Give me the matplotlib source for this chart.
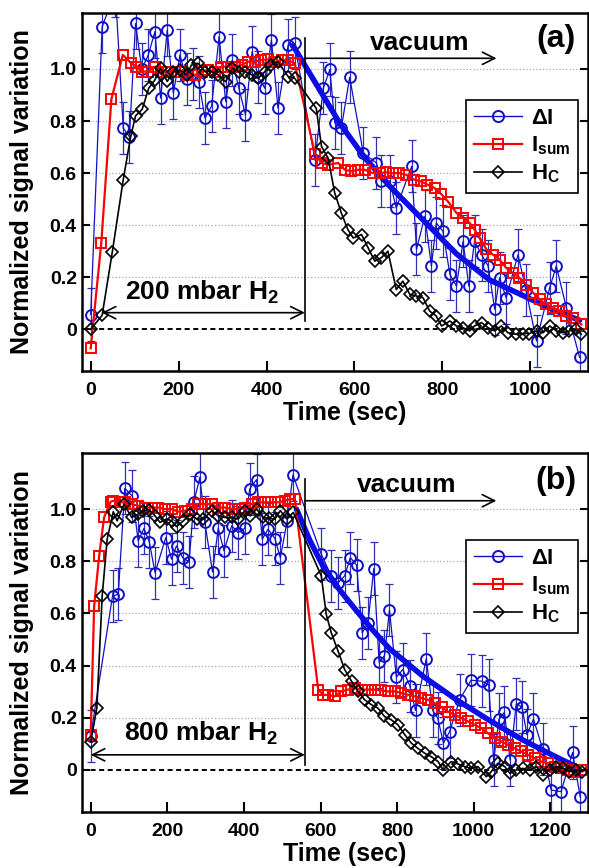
import matplotlib
matplotlib.use('Agg')
import matplotlib.pyplot as plt
from matplotlib.ticker import FuncFormatter, FixedLocator
from matplotlib.lines import Line2D

plt.rcParams['font.family'] = ['Liberation Sans', 'DejaVu Sans']
plt.rcParams['font.weight'] = 'bold'
plt.rcParams['mathtext.fontset'] = 'custom'
plt.rcParams['mathtext.rm'] = 'Liberation Sans:bold'
plt.rcParams['mathtext.bf'] = 'Liberation Sans:bold'
plt.rcParams['mathtext.it'] = 'Liberation Sans:bold'

# ---------------- Panel (a): 200 mbar H2 ----------------
a_dI_t = [0, 26, 56, 74, 88, 102, 116, 131, 146, 159, 174, 188, 203, 218, 233, 246, 260, 275,
          292, 307, 322, 337, 352, 367, 381, 396, 411, 426, 449, 464, 510, 529, 544, 555, 570,
          589, 620, 650, 661, 680, 695, 730, 741, 760, 775, 786, 801, 817, 832, 847, 860, 873,
          889, 904, 919, 930, 945, 972, 990, 1014, 1044, 1059, 1082, 1112]
a_dI_v = [0.057, 1.162, 1.30, 0.773, 0.74, 1.175, 1.00, 1.054, 1.143, 0.888, 1.149, 0.907, 1.054,
          0.96, 0.98, 0.95, 0.811, 0.858, 1.124, 0.875, 1.034, 0.926, 0.824, 1.066, 0.97, 0.926,
          1.111, 0.849, 1.092, 1.098, 0.65, 0.926, 0.998, 0.794, 0.773, 0.968, 0.677, 0.639, 0.569,
          0.57, 0.466, 0.626, 0.307, 0.434, 0.243, 0.409, 0.377, 0.211, 0.166, 0.338, 0.166, 0.338,
          0.287, 0.243, 0.077, 0.198, 0.121, 0.287, 0.15, -0.045, 0.160, 0.243, 0.083, -0.108]
a_dI_err = 0.10

a_sum_t = [0, 24, 47, 73, 91, 104, 116, 131, 146, 161, 176, 191, 206, 222, 237, 252, 267, 282,
           297, 313, 328, 343, 358, 373, 388, 404, 419, 434, 449, 464, 510, 525, 540, 563, 578,
           593, 608, 623, 642, 657, 672, 687, 702, 717, 736, 751, 766, 782, 797, 813, 832, 847,
           862, 873, 885, 900, 915, 930, 945, 960, 975, 991, 1006, 1021, 1036, 1051, 1066, 1081,
           1097, 1116]
a_sum_v = [-0.073, 0.332, 0.884, 1.054, 1.024, 1.009, 0.99, 0.99, 1.009, 0.99, 0.99, 0.99, 0.99,
           0.977, 0.977, 0.99, 0.996, 0.99, 1.009, 1.009, 1.009, 1.015, 1.028, 1.028, 1.034, 1.037,
           1.028, 1.034, 1.034, 1.022, 0.674, 0.639, 0.632, 0.639, 0.613, 0.607, 0.613, 0.613, 0.600,
           0.600, 0.603, 0.600, 0.600, 0.594, 0.575, 0.568, 0.556, 0.543, 0.520, 0.490, 0.447, 0.428,
           0.409, 0.383, 0.351, 0.307, 0.287, 0.268, 0.236, 0.217, 0.198, 0.172, 0.141, 0.115, 0.096,
           0.083, 0.070, 0.051, 0.045, 0.019]

a_hc_t = [0, 26, 49, 74, 91, 102, 117, 132, 146, 159, 174, 188, 203, 218, 229, 244, 260, 275, 290,
          307, 322, 337, 352, 367, 381, 396, 411, 426, 449, 464, 513, 525, 540, 555, 570, 585, 597,
          616, 631, 646, 661, 676, 695, 710, 726, 741, 756, 771, 786, 798, 817, 832, 847, 862, 873,
          889, 904, 919, 934, 949, 968, 983, 998, 1014, 1029, 1044, 1059, 1074, 1089, 1104, 1116]
a_hc_v = [0.0, 0.054, 0.296, 0.575, 0.741, 0.82, 0.845, 0.926, 0.958, 1.003, 0.952, 0.99, 0.996,
          0.977, 1.015, 1.022, 0.99, 0.99, 0.977, 0.951, 1.003, 0.99, 0.99, 0.977, 0.964, 0.99, 1.015,
          1.028, 0.971, 0.964, 0.849, 0.702, 0.658, 0.524, 0.447, 0.383, 0.351, 0.364, 0.313, 0.262,
          0.275, 0.300, 0.153, 0.185, 0.134, 0.128, 0.121, 0.070, 0.051, 0.013, 0.032, 0.013, 0.006,
          -0.006, 0.013, 0.026, 0.006, -0.006, 0.013, -0.013, -0.019, -0.016, -0.016, -0.006, -0.013,
          0.013, -0.006, -0.013, -0.006, 0.0, -0.019]

a_fit_t = [460, 510, 567, 623, 680, 756, 832, 907, 983, 1059, 1112]
a_fit_v = [1.09, 0.95, 0.79, 0.66, 0.55, 0.42, 0.29, 0.19, 0.13, 0.07, 0.035]

# ---------------- Panel (b): 800 mbar H2 ----------------
b_dI_t = [0, 57, 72, 89, 109, 124, 139, 153, 168, 196, 211, 224, 240, 257, 269, 285, 298, 318,
          333, 348, 368, 385, 402, 415, 433, 448, 463, 481, 495, 513, 528, 602, 628, 646, 663, 678,
          694, 709, 724, 739, 753, 767, 780, 798, 815, 833, 848, 876, 893, 906, 921, 937, 963, 993,
          1022, 1039, 1052, 1066, 1080, 1095, 1111, 1126, 1139, 1156, 1180, 1202, 1228, 1258, 1278]
b_dI_v = [0.13, 0.667, 0.673, 1.080, 1.049, 0.878, 0.926, 0.874, 0.756, 0.891, 0.808, 0.859, 0.814,
          0.797, 1.026, 1.122, 0.949, 0.759, 0.926, 0.840, 0.936, 0.910, 0.926, 1.077, 1.113, 0.885,
          0.923, 0.887, 0.814, 0.955, 1.131, 0.827, 0.744, 0.718, 0.744, 0.814, 0.785, 0.526, 0.564,
          0.772, 0.413, 0.438, 0.613, 0.356, 0.385, 0.323, 0.228, 0.426, 0.228, 0.199, 0.103, 0.147,
          0.269, 0.344, 0.340, 0.327, 0.038, 0.195, 0.221, 0.038, 0.254, 0.241, 0.135, 0.195, 0.08,
          -0.077, -0.083, 0.067, -0.103]
b_dI_err = 0.10

b_sum_t = [0, 9, 22, 35, 52, 59, 76, 89, 107, 124, 142, 159, 177, 194, 211, 229, 246, 264, 281,
           298, 316, 333, 351, 368, 386, 403, 420, 438, 455, 472, 490, 507, 520, 533, 594, 607, 619,
           637, 654, 672, 689, 707, 724, 741, 759, 776, 794, 811, 829, 846, 863, 881, 898, 916, 933,
           950, 968, 985, 1003, 1020, 1037, 1055, 1072, 1089, 1107, 1124, 1142, 1159, 1176, 1194,
           1211, 1228, 1246, 1263, 1281]
b_sum_v = [0.135, 0.628, 0.82, 0.968, 1.028, 1.032, 1.026, 1.026, 1.019, 1.013, 1.006, 1.006,
           1.006, 1.0, 1.0, 0.99, 0.994, 1.0, 1.019, 1.019, 1.019, 1.006, 1.006, 1.0, 1.0, 1.006,
           1.019, 1.026, 1.026, 1.026, 1.026, 1.032, 1.038, 1.038, 0.308, 0.288, 0.288, 0.282, 0.301,
           0.308, 0.314, 0.308, 0.308, 0.308, 0.305, 0.301, 0.301, 0.295, 0.288, 0.282, 0.276, 0.269,
           0.256, 0.241, 0.224, 0.212, 0.199, 0.186, 0.173, 0.160, 0.141, 0.122, 0.109, 0.096, 0.083,
           0.071, 0.058, 0.045, 0.032, 0.026, 0.013, 0.006, 0.0, -0.006, 0.0]

b_hc_t = [0, 16, 30, 43, 59, 69, 87, 107, 124, 137, 153, 168, 181, 198, 211, 224, 242, 259, 277,
          294, 316, 333, 351, 368, 385, 403, 416, 433, 450, 466, 481, 495, 512, 529, 602, 615, 628,
          646, 663, 681, 698, 715, 733, 750, 767, 785, 802, 820, 837, 854, 872, 889, 907, 920, 941,
          959, 976, 994, 1011, 1033, 1046, 1063, 1081, 1094, 1111, 1128, 1146, 1163, 1181, 1198,
          1215, 1233, 1250, 1268, 1283]
b_hc_v = [0.109, 0.237, 0.667, 0.885, 0.99, 0.955, 1.019, 0.968, 0.981, 0.994, 0.997, 0.974, 0.949,
          0.962, 0.955, 0.933, 0.955, 0.981, 0.962, 0.962, 0.994, 0.974, 0.968, 0.968, 0.962, 0.994,
          0.974, 1.0, 0.968, 0.964, 0.962, 0.994, 0.962, 0.987, 0.744, 0.596, 0.526, 0.455, 0.385,
          0.340, 0.301, 0.269, 0.250, 0.237, 0.205, 0.192, 0.173, 0.135, 0.103, 0.083, 0.064, 0.051,
          0.032, 0.0, 0.032, 0.023, 0.013, 0.006, 0.013, -0.026, -0.006, 0.026, 0.013, -0.013, 0.0,
          0.006, 0.0, 0.013, -0.019, 0.0, 0.013, 0.006, -0.006, 0.0, -0.006]

b_fit_t = [537, 572, 607, 650, 694, 740, 780, 867, 954, 1041, 1128, 1215, 1267]
b_fit_v = [1.0, 0.88, 0.78, 0.69, 0.61, 0.53, 0.465, 0.36, 0.27, 0.19, 0.115, 0.05, 0.013]

yticks = [0, 0.2, 0.4, 0.6, 0.8, 1.0]
a_xticks = [0, 200, 400, 600, 800, 1000]
b_xticks = [0, 200, 400, 600, 800, 1000, 1200]

BLUE = '#1010c8'
EBLUE = '#3030b4'
FITBLUE = '#0c0ce6'
RED = '#ff0000'

fig = plt.figure(figsize=(5.89, 8.68), dpi=100)
W = (587.5 - 81.7) / 589
ax1 = fig.add_axes([81.7 / 589, 1 - 371 / 868, W, 358 / 868])
ax2 = fig.add_axes([81.7 / 589, 1 - 811.7 / 868, W, 358.7 / 868])


def draw(ax, dI_t, dI_v, err, sum_t, sum_v, hc_t, hc_v, fit_t, fit_v, xticks, xlim,
         vline_x, vline_y, vac_y, vac_end, vac_text_xy, lab, lab_xy, h2_arrow, h2_text, h2_xy):
    ax.set_xlim(*xlim)
    ax.set_ylim(-0.16, 1.215)
    for y in yticks[1:]:
        ax.axhline(y, color='#a8a8b8', ls=':', lw=0.9, zorder=0)
    ax.axhline(0, color='k', ls=(0, (2.6, 1.8)), lw=1.4, zorder=1)

    ax.errorbar(dI_t, dI_v, yerr=err, fmt='none', ecolor=EBLUE, elinewidth=0.9,
                capsize=2.8, capthick=0.9, zorder=2)
    ax.plot(dI_t, dI_v, color=BLUE, lw=0.9, marker='o', ms=7.8, mfc='none', mec=BLUE,
            mew=1.4, zorder=2.1)
    ax.plot(fit_t, fit_v, color=FITBLUE, lw=4, solid_capstyle='round', zorder=2.5)
    ax.plot(sum_t, sum_v, color=RED, lw=1.6, marker='s', ms=7, mfc='none', mec=RED,
            mew=1.4, zorder=3)
    ax.plot(hc_t, hc_v, color='k', lw=1.2, marker='D', ms=6.3, mfc='none', mec='k',
            mew=1.2, zorder=3.5)

    # vertical separator and arrows
    ax.plot([vline_x, vline_x], vline_y, color='k', lw=1.2, zorder=4)
    ax.annotate('', xy=(vac_end, vac_y), xytext=(vline_x, vac_y),
                arrowprops=dict(arrowstyle='->', lw=1.2, color='k', mutation_scale=22,
                                shrinkA=0, shrinkB=0), zorder=4)
    ax.text(vac_text_xy[0], vac_text_xy[1], 'vacuum', fontsize=19, fontweight='bold',
            ha='left', va='baseline', zorder=5)
    ax.annotate('', xy=(h2_arrow[0], h2_arrow[2]), xytext=(h2_arrow[1], h2_arrow[2]),
                arrowprops=dict(arrowstyle='<->', lw=1.2, color='k', mutation_scale=22,
                                shrinkA=0, shrinkB=0), zorder=4)
    ax.text(h2_xy[0], h2_xy[1], h2_text, fontsize=19, fontweight='bold',
            ha='left', va='baseline', zorder=5)
    ax.text(lab_xy[0], lab_xy[1], lab, fontsize=23, fontweight='bold', ha='right',
            va='center', zorder=5)

    ax.xaxis.set_major_locator(FixedLocator(xticks))
    ax.yaxis.set_major_locator(FixedLocator(yticks))
    ax.yaxis.set_major_formatter(FuncFormatter(lambda v, p: '0' if abs(v) < 1e-9 else f'{v:.1f}'))
    ax.tick_params(axis='x', direction='in', length=7, width=1.5, top=False,
                   labelsize=14, pad=8)
    ax.tick_params(axis='y', direction='in', length=6, width=1.5, left=True, right=True,
                   labelsize=14, pad=3.5)
    for lbl in ax.get_xticklabels() + ax.get_yticklabels():
        lbl.set_fontweight('bold')
    for s in ax.spines.values():
        s.set_linewidth(1.8)
    ax.set_xlabel('Time (sec)', fontsize=18, fontweight='bold', labelpad=4)
    ax.set_ylabel('Normalized signal variation', fontsize=18, fontweight='bold')
    ax.yaxis.set_label_coords(-0.095, 0.5)
    ax.xaxis.set_label_coords(0.52, -0.085)

    handles = [
        Line2D([], [], color=BLUE, lw=1.0, marker='o', ms=8, mfc='none', mec=BLUE, mew=1.4),
        Line2D([], [], color=RED, lw=1.6, marker='s', ms=7.5, mfc='none', mec=RED, mew=1.4),
        Line2D([], [], color='k', lw=1.2, marker='D', ms=6.3, mfc='none', mec='k', mew=1.2),
    ]
    leg = ax.legend(handles, [r'$\Delta$I', r'I$_{\mathbf{sum}}$', r'H$_{\mathbf{C}}$'],
                    loc='upper right', bbox_to_anchor=(0.982, 0.757), borderaxespad=0,
                    handlelength=2.2, handletextpad=0.4, labelspacing=0.25,
                    borderpad=0.35, frameon=True, fancybox=False, framealpha=1,
                    edgecolor='k', prop={'weight': 'bold', 'size': 16})
    leg.get_frame().set_linewidth(1.2)
    leg.set_zorder(10)


draw(ax1, a_dI_t, a_dI_v, a_dI_err, a_sum_t, a_sum_v, a_hc_t, a_hc_v, a_fit_t, a_fit_v,
     a_xticks, (-20.5, 1130), 487, [0.032, 1.118], 1.041, 923, (635, 1.073), '(a)',
     (1104, 1.115), (25, 487, 0.064), r'200 mbar H$_\mathrm{2}$', (78, 0.115))
draw(ax2, b_dI_t, b_dI_v, b_dI_err, b_sum_t, b_sum_v, b_hc_t, b_hc_v, b_fit_t, b_fit_v,
     b_xticks, (-23.5, 1297), 559, [0.019, 1.115], 1.032, 1059, (694, 1.064), '(b)',
     (1267, 1.106), (0, 559, 0.058), r'800 mbar H$_\mathrm{2}$', (87, 0.113))

fig.savefig('out.png', dpi=100)
